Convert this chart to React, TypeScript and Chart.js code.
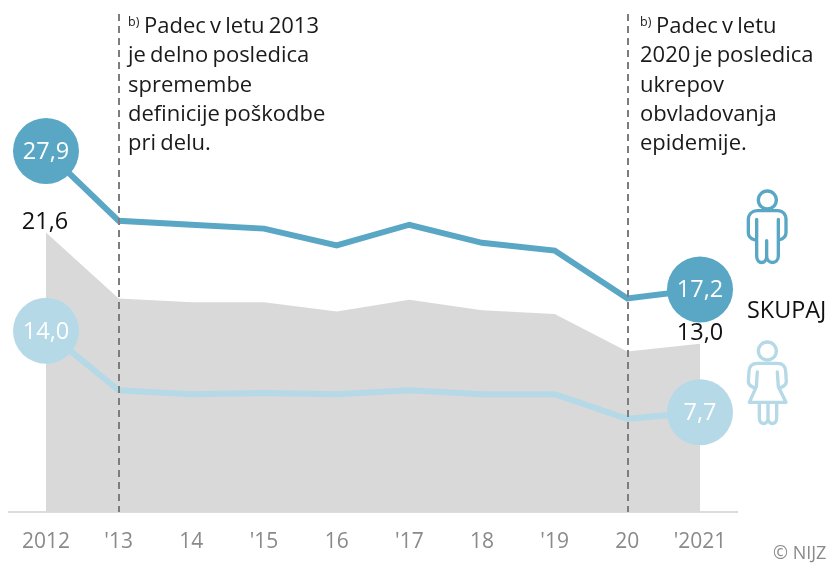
import React, { useEffect, useRef } from "react";
import { Chart, registerables } from "chart.js";

Chart.register(...registerables);

const years = [2012, 2013, 2014, 2015, 2016, 2017, 2018, 2019, 2020, 2021];
const tickLabels = ["2012", "'13", "14", "'15", "16", "'17", "18", "'19", "20", "'2021"];
const men = [27.9, 22.5, 22.2, 21.9, 20.6, 22.2, 20.8, 20.2, 16.5, 17.2];
const total = [21.6, 16.5, 16.2, 16.2, 15.5, 16.4, 15.6, 15.3, 12.4, 13.0];
const women = [14.0, 9.4, 9.1, 9.2, 9.1, 9.4, 9.1, 9.1, 7.2, 7.7];
const markerYears = [2013, 2020];
const noteLeft = ["Padec v letu 2013", "je delno posledica", "spremembe", "definicije poškodbe", "pri delu."];
const noteRight = ["Padec v letu", "2020 je posledica", "ukrepov", "obvladovanja", "epidemije."];

const MEN_COLOR = "#59a7c5";
const WOMEN_COLOR = "#b5d9e6";
const FONT = '"Open Sans", sans-serif';

const fmt = (v: number) => v.toFixed(1).replace(".", ",");
const pts = (vals: number[]) => vals.map((y, i) => ({ x: years[i], y }));

const MAN_PATH =
  "M345 210 C332 206 325 198 325 188 L325 150 C325 132 337 122 352 122 L412 122 C428 122 438 132 438 150 L438 188 C438 198 430 206 417 210 M350 148 L350 258 C350 284 380 284 380 258 L380 212 M415 148 L415 258 C415 284 380 284 380 258";
const WOMAN_PATH =
  "M340 652 C330 648 325 642 325 634 L327 604 C328 588 338 580 352 580 L412 580 C426 580 436 588 437 604 L439 634 C439 642 434 648 424 652 M352 606 L349 650 L328 697 L438 697 L415 650 L412 606 M358 697 L358 744 C358 766 384 766 384 744 L384 697 M410 697 L410 744 C410 766 384 766 384 744";

const overlay = {
  id: "overlay",
  afterDatasetsDraw(chart: any) {
    const { ctx, scales } = chart;
    const x = scales.x;
    const y = scales.y;
    ctx.save();
    ctx.strokeStyle = "#7d7d7d";
    ctx.lineWidth = 2;
    ctx.setLineDash([7, 5]);
    markerYears.forEach((yr) => {
      const px = Math.ceil(x.getPixelForValue(yr));
      ctx.beginPath();
      ctx.moveTo(px, 14);
      ctx.lineTo(px, y.getPixelForValue(0));
      ctx.stroke();
    });
    ctx.setLineDash([]);

    ctx.textBaseline = "middle";
    ctx.textAlign = "center";
    ctx.font = `23.5px ${FONT}`;
    ctx.fillStyle = "#ffffff";
    const last = years.length - 1;
    [men, women].forEach((s) => {
      [0, last].forEach((i) => {
        ctx.fillText(fmt(s[i]), x.getPixelForValue(years[i]), y.getPixelForValue(s[i]) + 1);
      });
    });
    ctx.fillStyle = "#111111";
    ctx.fillText(fmt(total[0]), x.getPixelForValue(years[0]) - 1, y.getPixelForValue(total[0]) - 10);
    ctx.fillText(fmt(total[last]), x.getPixelForValue(years[last]), y.getPixelForValue(total[last]) - 10);

    ctx.textAlign = "left";
    ctx.fillStyle = "#1a1a1a";
    const drawNote = (lines: string[], left: number, first: number) => {
      ctx.font = `12.5px ${FONT}`;
      ctx.fillText("b)", left, 22);
      ctx.font = `22px ${FONT}`;
      (ctx as any).wordSpacing = "-1.5px";
      lines.forEach((l, i) => {
        ctx.fillText(l, i === 0 ? first : left, 27 + i * 29.2);
      });
      (ctx as any).wordSpacing = "0px";
    };
    drawNote(noteLeft, 128, 144);
    drawNote(noteRight, 640, 656);

    ctx.font = `23.4px ${FONT}`;
    ctx.fillStyle = "#111111";
    ctx.fillText("SKUPAJ", 747, 311);
    ctx.font = `18px ${FONT}`;
    ctx.fillStyle = "#8a8a8a";
    ctx.fillText("© NIJZ", 773, 554);

    const icon = (path: string, color: string, cy: number) => {
      ctx.save();
      ctx.translate(640, 170);
      ctx.scale(1 / 3, 1 / 3);
      ctx.strokeStyle = color;
      ctx.lineWidth = 10;
      ctx.lineJoin = "round";
      ctx.lineCap = "round";
      ctx.beginPath();
      ctx.arc(382, cy, 27, 0, Math.PI * 2);
      ctx.stroke();
      ctx.stroke(new Path2D(path));
      ctx.restore();
    };
    icon(MAN_PATH, MEN_COLOR, 90);
    icon(WOMAN_PATH, WOMEN_COLOR, 543);
    ctx.restore();
  },
};

export default function App() {
  const ref = useRef<HTMLCanvasElement>(null);
  useEffect(() => {
    document.body.style.margin = "0";
    const endsOnly = (ctx: any) =>
      ctx.dataIndex === 0 || ctx.dataIndex === years.length - 1 ? 33 : 0;
    const chart = new Chart(ref.current!, {
      type: "line",
      data: {
        datasets: [
          {
            label: "Moški",
            data: pts(men),
            borderColor: MEN_COLOR,
            backgroundColor: MEN_COLOR,
            borderWidth: 6,
            pointRadius: endsOnly,
            pointBorderWidth: 0,
            pointHoverRadius: endsOnly,
            tension: 0,
            fill: false,
            order: 1,
          },
          {
            label: "Ženske",
            data: pts(women),
            borderColor: WOMEN_COLOR,
            backgroundColor: WOMEN_COLOR,
            borderWidth: 6,
            pointRadius: endsOnly,
            pointBorderWidth: 0,
            pointHoverRadius: endsOnly,
            tension: 0,
            fill: false,
            order: 2,
          },
          {
            label: "Skupaj",
            data: pts(total),
            borderWidth: 0,
            borderColor: "transparent",
            backgroundColor: "#d9d9d9",
            pointRadius: 0,
            tension: 0,
            fill: "origin",
            order: 3,
          },
        ],
      },
      options: {
        animation: false,
        responsive: false,
        events: [],
        clip: false as any,
        layout: { autoPadding: false, padding: { left: 9, right: 102, top: 0, bottom: 0 } },
        plugins: { legend: { display: false }, tooltip: { enabled: false } },
        scales: {
          x: {
            type: "linear",
            min: 2011.491,
            max: 2021.509,
            grid: { display: false, drawTicks: false },
            border: { color: "#dcdcdc", width: 2 },
            afterBuildTicks: (s: any) => {
              s.ticks = years.map((v) => ({ value: v }));
            },
            afterFit: (s: any) => {
              s.height = 51;
            },
            ticks: {
              autoSkip: false,
              maxRotation: 0,
              minRotation: 0,
              padding: 17,
              color: "#8a8a8a",
              font: { family: "Open Sans", size: 21 },
              callback: (v: any) => tickLabels[years.indexOf(Number(v))],
            },
          },
          y: { display: false, min: 0, max: 512 / 12.94 },
        },
      },
      plugins: [overlay],
    } as any);
    return () => chart.destroy();
  }, []);
  return <canvas ref={ref} width={839} height={563} style={{ display: "block" }} />;
}
